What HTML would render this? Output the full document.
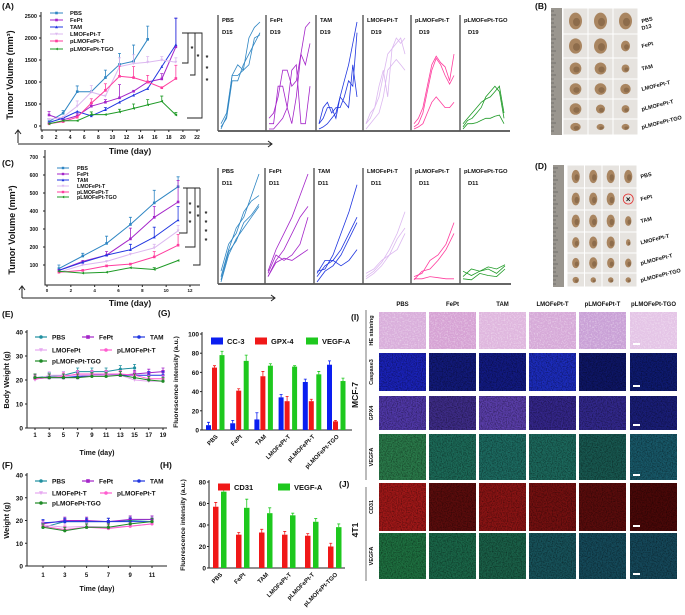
<!DOCTYPE html>
<html><head><meta charset="utf-8">
<style>
html,body{margin:0;padding:0;background:#fff;}
svg{display:block;font-family:"Liberation Sans",Arial,sans-serif;}
text{font-weight:bold;fill:#111;}
</style></head>
<body>
<svg id="fig" width="685" height="615" viewBox="0 0 685 615" xmlns="http://www.w3.org/2000/svg">
<defs>
<filter id="noise" x="0" y="0" width="100%" height="100%">
<feTurbulence type="fractalNoise" baseFrequency="0.8" numOctaves="2" seed="3"/>
<feColorMatrix type="matrix" values="0 0 0 0 0  0 0 0 0 0  0 0 0 0 0  1.8 0 0 0 -0.7"/>
</filter>
<filter id="noiseL" x="0" y="0" width="100%" height="100%">
<feTurbulence type="fractalNoise" baseFrequency="0.7" numOctaves="2" seed="8"/>
<feColorMatrix type="matrix" values="0 0 0 0 1  0 0 0 0 1  0 0 0 0 1  1.8 0 0 0 -0.8"/>
</filter>
</defs>
</svg>
<script>
// ---------- DATA ----------
const groupNames = ["PBS","FePt","TAM","LMOFePt-T","pLMOFePt-T","pLMOFePt-TGO"];
const groupColors = ["#2f86c3","#a425c9","#2036e0","#dcb8f0","#ff3d9e","#1e9a26"];
// Panel A
const daysA = [1,3,5,7,9,11,13,15,17,19];
const aPBS  = [100,290,780,780,1100,1400,1470,1970];
const aFePt = [250,140,230,450,540,640,790,1000,1070,1800];
const aTAM  = [80,180,330,230,370,540,700,850,1350,1850];
const aLMO  = [150,200,450,770,680,1350,1420,1450,1500,1450];
const aPLMO = [50,100,200,520,810,1130,1100,1000,870,1080];
const aTGO  = [50,120,120,260,260,320,400,480,560,250];
const eA = [[60,60,130,0,170,250,370,300],[80,40,60,60,60,300,0,0,120,650],[0,0,0,0,50,0,0,0,0,600],[0,0,120,150,0,200,200,130,80,100],[0,0,0,100,150,230,250,150,0,300],[0,0,0,60,0,60,100,120,120,60]];
const ticksAY = ["2500","2000","1500","1000","1500","0"];
const ticksAYv = [2500,2000,1500,1000,500,0];
const ticksAX = [0,2,4,6,8,10,12,14,16,18,20,22];
// Panel C
const daysC = [1,3,5,7,9,11];
const cPBS  = [80,150,220,325,445,535];
const cFePt = [70,120,155,245,365,450];
const cTAM  = [70,115,155,185,255,350];
const cLMO  = [60,100,120,160,195,290];
const cPLMO = [60,70,95,105,145,210];
const cTGO  = [65,55,60,85,75,125];
const eC = [[20,15,40,40,70,55],[0,0,20,60,60,120],[0,0,0,30,55,75],[0,0,0,0,20,30],[0,0,0,0,30,60],[0,0,0,0,10,0]];
const ticksCY = [700,600,500,400,300,200,100];
const ticksCX = [0,2,4,6,8,10,12];
// Mini individual curves (relative tumour size, 0..1)
const miniA = [
 [[0.05,0.15,0.5,0.6,0.55,0.85,0.95,1.0],[0.02,0.1,0.45,0.45,0.6,0.7,0.8,0.9],[0.0,0.12,0.5,0.5,0.55,0.6,0.85,0.88]],
 [[0.05,0.05,0.4,0.4,0.2,0.05,0.3,0.7,0.95,1.0],[0.1,0.15,0.3,0.55,0.55,0.4,0.45,0.7,0.6,0.8],[0.0,0.0,0.05,0.1,0.2,0.55,0.6,0.05,0.05,0.4]],
 [[0,0.02,0.05,0.1,0.15,0.3,0.45,0.6,0.8,1.0],[0.05,0.2,0.25,0.15,0.2,0.2,0.3,0.45,0.4,0.9],[0.05,0.1,0.2,0.2,0.1,0.3,0.25,0.2,0.6,0.3]],
 [[0.05,0.1,0.2,0.3,0.5,0.7,0.75,0.8,0.85,0.7],[0.05,0.15,0.2,0.4,0.55,0.3,0.75,0.85,0.8,0.85],[0.0,0.05,0.1,0.15,0.3,0.55,0.6,0.65,0.6,0.55]],
 [[0.05,0.1,0.2,0.4,0.6,0.68,0.62,0.58,0.45,0.7],[0.02,0.05,0.15,0.35,0.55,0.66,0.6,0.5,0.42,0.5],[0.0,0.02,0.05,0.15,0.25,0.3,0.25,0.2,0.2,0.25]],
 [[0.05,0.1,0.15,0.2,0.25,0.28,0.3,0.35,0.4,0.15],[0.02,0.08,0.1,0.15,0.2,0.3,0.35,0.4,0.35,0.1],[0.0,0.05,0.05,0.06,0.08,0.1,0.1,0.12,0.13,0.05]]
];
const miniC = [
 [[0.05,0.3,0.5,0.6,0.8,1.0],[0.1,0.35,0.45,0.65,0.75,0.8],[0.0,0.25,0.4,0.5,0.6,0.7],[0.02,0.28,0.38,0.55,0.62,0.72]],
 [[0.1,0.3,0.45,0.6,0.8,1.0],[0.05,0.2,0.3,0.45,0.6,0.7],[0.08,0.25,0.2,0.25,0.35,0.6],[0.05,0.18,0.22,0.2,0.25,0.3]],
 [[0.1,0.12,0.25,0.45,0.65,0.9],[0.05,0.15,0.2,0.3,0.45,0.6],[0.0,0.1,0.15,0.25,0.4,0.55],[0.08,0.2,0.2,0.15,0.2,0.3]],
 [[0.05,0.1,0.18,0.3,0.45,0.65],[0.08,0.12,0.2,0.25,0.4,0.5],[0.03,0.08,0.15,0.25,0.3,0.45]],
 [[0.05,0.08,0.2,0.25,0.35,0.55],[0.02,0.1,0.12,0.2,0.3,0.45],[0.03,0.03,0.05,0.04,0.03,0.03]],
 [[0.1,0.06,0.1,0.12,0.08,0.15],[0.05,0.12,0.1,0.14,0.12,0.16],[0.03,0.02,0.08,0.06,0.05,0.12]]
];
const miniDayA = ["D15","D19","D19","D19","D19","D19"];
// Panel E / F
const daysE = [1,3,5,7,9,11,13,15,17,19];
const ePBS=[21,21.5,22,23.5,23.5,23.5,24.5,25], eFePt=[21,21,21,21,22,22,22,22.5,23,23.5], eTAM=[20.5,21,21,21.5,22,22.5,22,22,22,22];
const eLMO=[20,22,22,22,22,22,22,20,19.5,19.5], ePLMO=[20.5,21,21.5,22.5,22.5,22.5,22.5,22,20.5,20.5], eTGO=[21,21,21,21,21.5,21.5,22,21,20,19.5];
const daysF = [1,3,5,7,9,11];
const fPBS=[17,19.5,19.5,19.5,20,20.5], fFePt=[18.5,20,20,19.5,20.5,20.5], fTAM=[19,19.5,19.5,19.5,19.5,19.5];
const fLMO=[18,17,17.5,17,17.5,18.5], fPLMO=[17.5,16,17,16.5,17.5,18.5], fTGO=[17,15.5,17,17,18.5,19.5];
const ticksW = [0,10,20,30,40];
const efColors = ["#1f8f9f","#a425c9","#2036e0","#e6a8f0","#ff5ccf","#1e8a26"];
const efNames = ["PBS","FePt","TAM","LMOFePt","pLMOFePt-T","pLMOFePt-TGO"];
const fNames = ["PBS","FePt","TAM","LMOFePt-T","pLMOFePt-T","pLMOFePt-TGO"];
// Panel G / H
const gCC3=[5,7,11,34,50,68], gGPX4=[65,41,56,30,30,9], gVEGF=[78,72,67,66,58,51];
const gErr=[[3,3,7,3,3,4],[2,2,5,5,2,1],[4,6,2,1,3,3]];
const hCD31=[57,31,33,31,30,20], hVEGF=[71,56,51,49,43,38];
const hErr=[[4,2,3,3,2,3],[6,8,5,2,3,3]];
const ticksG=[0,20,40,60,80,100], ticksH=[0,20,40,60,80];

// ---------- helpers ----------
const svg=document.getElementById('fig');
const NS="http://www.w3.org/2000/svg";
function mk(tag,attrs,parent){const e=document.createElementNS(NS,tag);for(const k in attrs)e.setAttribute(k,attrs[k]);(parent||svg).appendChild(e);return e;}
function txt(x,y,s,size,anchor,parent,extra){const e=mk('text',Object.assign({x:x,y:y,'font-size':size,'text-anchor':anchor||'start'},extra||{}),parent);e.textContent=s;return e;}
function grp(name){const g=mk('g',{});return g;}
function marker(g,x,y,type,color,s){
  let e;
  if(type==='sq'){e=mk('rect',{x:x-s,y:y-s,width:2*s,height:2*s,fill:color},g);}
  else if(type==='tu'){e=mk('polygon',{points:`${x},${y-s*1.2} ${x-s*1.1},${y+s} ${x+s*1.1},${y+s}`,fill:color},g);}
  else if(type==='td'){e=mk('polygon',{points:`${x},${y+s*1.2} ${x-s*1.1},${y-s} ${x+s*1.1},${y-s}`,fill:color},g);}
  else if(type==='tl'){e=mk('polygon',{points:`${x-s*1.2},${y} ${x+s},${y-s*1.1} ${x+s},${y+s*1.1}`,fill:color},g);}
  else {e=mk('circle',{cx:x,cy:y,r:s,fill:color},g);}
  
  
}
const mtypes=['sq','sq','tu','td','sq','tl'];
function series(g,xs,vals,errs,X,Y,color,mt,ms,name){
  const sg=mk('g',{},g);
  
  
  let d='';
  vals.forEach((v,i)=>{d+=(i?'L':'M')+X(xs[i]).toFixed(1)+','+Y(v).toFixed(1);});
  mk('path',{d:d,fill:'none',stroke:color,'stroke-width':1},sg);
  vals.forEach((v,i)=>{
    if(errs&&errs[i]){const x=X(xs[i]);mk('path',{d:`M${x},${Y(v)}V${Y(v+errs[i])}M${x-1.5},${Y(v+errs[i])}H${x+1.5}`,stroke:color,'stroke-width':0.8,fill:'none'},sg);}
    marker(sg,X(xs[i]),Y(v),mt,color,ms);
  });
}
function axes(g,x0,x1,y0,yTop){mk('path',{d:`M${x0},${yTop}V${y0}H${x1}`,stroke:'#222','stroke-width':1,fill:'none'},g);}

// ---------- Panel labels ----------
[["(A)",2,9],["(B)",535,9],["(C)",2,166],["(D)",535,169],["(E)",2,317],["(F)",2,468],["(G)",158,316],["(H)",160,468],["(I)",351,320],["(J)",339,487]].forEach(p=>{
  const t=txt(p[1],p[2],p[0],8.5,'start');
  
  
});

// ---------- Panel A ----------
(function(){
  const g=grp('panel-a-tumor-volume-chart');
  const X=d=>42+d*(155/22), Y=v=>126-v*(110/2500);
  axes(g,41,200,130,12);
  ticksAYv.forEach((v,i)=>{mk('line',{x1:39,x2:41,y1:Y(v),y2:Y(v),stroke:'#222'},g);txt(37,Y(v)+2,ticksAY[i],5.5,'end',g);});
  ticksAX.forEach(d=>{mk('line',{x1:X(d),x2:X(d),y1:130,y2:132,stroke:'#222'},g);txt(X(d),139,String(d),5,'middle',g);});
  const yt=txt(13,75,'Tumor Volume (mm³)',9,'middle',g,{transform:'rotate(-90 13 75)'});
  
  
  const all=[aPBS,aFePt,aTAM,aLMO,aPLMO,aTGO];
  all.forEach((s,k)=>series(g,daysA,s,eA[k],X,Y,groupColors[k],mtypes[k],1.3,'series-'+groupNames[k].toLowerCase()));
  const ly=[13,20,27,34,41,49];
  groupNames.forEach((n,k)=>{
    const lg=mk('g',{},g);
    
    
    mk('line',{x1:50,x2:63,y1:ly[k],y2:ly[k],stroke:groupColors[k],'stroke-width':1},lg);
    marker(lg,56.5,ly[k],mtypes[k],groupColors[k],1.3);
    txt(70,ly[k]+2,n,5.8,'start',lg);
  });
  mk('path',{d:'M182,33H202V118H187M195,33V75H190M188,33V63H182',stroke:'#222','stroke-width':0.9,fill:'none'},g);
  [[192,51],[198,59],[207,60],[207,71],[207,83]].forEach(p=>txt(p[0],p[1],'*',7,'middle',g));
  mk('path',{d:'M18,143V131M15,134L18,130L21,134M18,144H272M268,141L272,144L268,147',stroke:'#222','stroke-width':1,fill:'none'},g);
  const tl=txt(130,154,'Time (day)',8.5,'middle',g);
  
  
})();

// ---------- mini panels ----------
function minis(name,data,lefts,right,base,top,valTop,names,days,nameY){
  const g=grp(name);
  mk('line',{x1:lefts[0],x2:right,y1:base,y2:base,stroke:'#333','stroke-width':1.5},g);
  lefts.forEach((l,k)=>{
    const r=k<lefts.length-1?lefts[k+1]:right;
    const pg=mk('g',{},g);
    
    
    mk('line',{x1:l,x2:l,y1:top,y2:base,stroke:'#555','stroke-width':1.4},pg);
    txt(l+4,nameY,names[k],5.8,'start',pg);
    txt(l+(k>2?8:4),nameY+12,days[k],5.8,'start',pg);
    data[k].forEach(c=>{
      const n=c.length;let d='';
      c.forEach((v,i)=>{const x=l+3+i*(r-l-9)/(n-1);const y=base-2-v*(base-2-valTop);d+=(i?'L':'M')+x.toFixed(1)+','+y.toFixed(1);});
      const p=mk('path',{d:d,fill:'none',stroke:groupColors[k],'stroke-width':0.8},pg);
      
      
    });
  });
}
minis('panel-a-individual-curves',miniA,[218,266,316,363,411,460],510,131,15,22,groupNames,miniDayA,22);
minis('panel-c-individual-curves',miniC,[218,265,314,363,411,460],511,284,168,174,groupNames,["D11","D11","D11","D11","D11","D11"],173);

// ---------- Panel C ----------
(function(){
  const g=grp('panel-c-tumor-volume-chart');
  const X=d=>47+d*(143/12), Y=v=>283-v*0.18;
  axes(g,45,200,285,150);
  ticksCY.forEach(v=>{mk('line',{x1:43,x2:45,y1:Y(v),y2:Y(v),stroke:'#222'},g);txt(38,Y(v)+2,String(v),5,'end',g);});
  ticksCX.forEach(d=>{mk('line',{x1:X(d),x2:X(d),y1:285,y2:287,stroke:'#222'},g);txt(X(d),292,String(d),4.5,'middle',g);});
  const yt=txt(15,230,'Tumor Volume (mm³)',9,'middle',g,{transform:'rotate(-90 15 230)'});
  
  
  [cPBS,cFePt,cTAM,cLMO,cPLMO,cTGO].forEach((s,k)=>series(g,daysC,s,eC[k],X,Y,groupColors[k],mtypes[k],1.3,'series-'+groupNames[k].toLowerCase()));
  const ly=[168,174,180,186,192,197];
  groupNames.forEach((n,k)=>{
    const lg=mk('g',{},g);
    
    
    mk('line',{x1:57,x2:69,y1:ly[k],y2:ly[k],stroke:groupColors[k]},lg);
    marker(lg,63,ly[k],mtypes[k],groupColors[k],1.2);
    txt(77,ly[k]+2,n,5.3,'start',lg);
  });
  mk('path',{d:'M183,188H200M187,188V233H179M195,188V247H185M200,188V265H193',stroke:'#222','stroke-width':0.9,fill:'none'},g);
  [[190,204],[190,213],[190,222],[198,207],[198,216],[206,213],[206,222],[206,231],[206,240]].forEach(p=>txt(p[0],p[1]+3,'*',7,'middle',g));
  mk('path',{d:'M22,298V287M19,290L22,286L25,290M22,298H275M271,295L275,298L271,301',stroke:'#222','stroke-width':1,fill:'none'},g);
  const tl=txt(130,306,'Time (day)',8.5,'middle',g);
  
  
})();

// ---------- Photos B / D ----------
function photos(name,rx,x0,cols,cw,rows,labels,extraLabel,sizes){
  const g=grp(name);
  mk('rect',{x:rx,y:rows[0],width:11,height:rows[rows.length-1]-rows[0],fill:'#9a968f'},g);
  for(let y=rows[0]+3;y<rows[rows.length-1];y+=4)mk('line',{x1:rx,x2:rx+(y%12<4?5:3),y1:y,y2:y,stroke:'#4a4a48','stroke-width':0.5},g);
  for(let r=0;r<rows.length-1;r++){
    for(let c=0;c<cols;c++){
      const cx=x0+c*cw, cy=rows[r], h=rows[r+1]-rows[r];
      mk('rect',{x:cx+0.5,y:cy+0.5,width:cw-1,height:h-1,fill:'#e6e3df'},g);
      const s=sizes[r][c];
      if(s<0){mk('circle',{cx:cx+cw/2,cy:cy+h/2,r:5,fill:'none',stroke:'#e03030','stroke-width':0.8},g);txt(cx+cw/2,cy+h/2+3,'×',8,'middle',g,{fill:'#e03030','font-weight':'normal'});continue;}
      const e=mk('ellipse',{cx:cx+cw/2,cy:cy+h/2,rx:s*cw*0.26,ry:s*h*0.32,fill:'#a98560'},g);
      
      
      mk('ellipse',{cx:cx+cw/2+1,cy:cy+h/2+1,rx:s*cw*0.14,ry:s*h*0.16,fill:'#7c5c3e',opacity:0.6},g);
    }
  }
  labels.forEach((l,i)=>{
    const y=(rows[i]+rows[i+1])/2+2, x=x0+cols*cw+4;
    txt(x,y,l,5.5,'start',g,{transform:`rotate(-14 ${x} ${y})`});
  });
  if(extraLabel)txt(x0+cols*cw+4,rows[0]+22,extraLabel,5.5,'start',g,{transform:`rotate(-14 ${x0+cols*cw+4} ${rows[0]+22})`});
}
photos('panel-b-tumor-photos',551,563,3,25,[8,34,58,79,99,119,135],["PBS","FePt","TAM","LMOFePt-T","pLMOFePt-T","pLMOFePt-TGO"],"D13",
  [[1,1,1],[1,1,0.7],[0.9,0.9,0.6],[0.9,0.9,0.8],[0.9,0.7,0.6],[0.8,0.6,0.6]]);
photos('panel-d-tumor-photos',553,567,4,17.5,[165,188,210,232,253,273,287],["PBS","FePt","TAM","LMOFePt-T","pLMOFePt-T","pLMOFePt-TGO"],null,
  [[0.9,0.9,0.9,0.9],[0.9,0.9,0.9,-1],[0.9,0.9,0.9,0.7],[0.8,0.9,0.9,0.5],[0.8,0.9,0.8,0.7],[0.7,0.6,0.6,0.6]]);

// ---------- Panel E / F ----------
function weightChart(name,xs,data,names,yTop,y0,X,tickY,legRows,title,titleY,ticksX){
  const g=grp(name);
  const Y=v=>y0-v*(y0-yTop)/40;
  axes(g,27,167,y0,yTop-2);
  ticksW.forEach(v=>{mk('line',{x1:25,x2:27,y1:Y(v),y2:Y(v),stroke:'#222'},g);txt(23,Y(v)+2.5,String(v),6.5,'end',g);});
  ticksX.forEach(d=>{mk('line',{x1:X(d),x2:X(d),y1:y0,y2:y0+2,stroke:'#222'},g);txt(X(d),tickY,String(d),6,'middle',g);});
  const yt=txt(9,(yTop+y0)/2,title,7.5,'middle',g,{transform:`rotate(-90 9 ${(yTop+y0)/2})`});
  
  
  const xt=txt(97,titleY,'Time (day)',7,'middle',g);
  
  
  const mt=['circ','sq','circ','td','circ','circ'];
  data.forEach((s,k)=>series(g,xs,s,s.map(()=>1.5),X,Y,efColors[k],mt[k],1.6,'series-'+names[k].toLowerCase()));
  const pos=[[35,legRows[0]],[82,legRows[0]],[133,legRows[0]],[35,legRows[1]],[100,legRows[1]],[35,legRows[2]]];
  names.forEach((n,k)=>{
    const lg=mk('g',{},g);
    
    
    mk('line',{x1:pos[k][0],x2:pos[k][0]+12,y1:pos[k][1],y2:pos[k][1],stroke:efColors[k],'stroke-width':1.2},lg);
    marker(lg,pos[k][0]+6,pos[k][1],mt[k],efColors[k],1.8);
    txt(pos[k][0]+17,pos[k][1]+2.5,n,6.5,'start',lg);
  });
}
weightChart('panel-e-body-weight-chart',daysE,[ePBS,eFePt,eTAM,eLMO,ePLMO,eTGO],efNames,332,428,d=>35+(d-1)*(128/18),437,[337,350,361],'Body Weight (g)',455,daysE);
weightChart('panel-f-body-weight-chart',daysF,[fPBS,fFePt,fTAM,fLMO,fPLMO,fTGO],fNames,475,566,d=>43+(d-1)*10.9,577,[481,493,503],'Weight (g)',591,daysF);

// ---------- Bar charts G / H ----------
function barChart(name,sets,errs,colors,legendNames,legendX,legendY,ticks,vmax,yTop,y0,axX,axEnd,g0,step,offs,bw,labels){
  const g=grp(name);
  const Y=v=>y0-v*(y0-yTop)/vmax;
  axes(g,axX,axEnd,y0,yTop-2);
  ticks.forEach(v=>{mk('line',{x1:axX-2,x2:axX,y1:Y(v),y2:Y(v),stroke:'#222'},g);txt(axX-3,Y(v)+2.5,String(v),6.5,'end',g);});
  const yt=txt(axX-24,(yTop+y0)/2,'Fluorescence intensity (a.u.)',6.8,'middle',g,{transform:`rotate(-90 ${axX-24} ${(yTop+y0)/2})`,'font-weight':'normal'});
  
  
  sets.forEach((s,si)=>{
    s.forEach((v,i)=>{
      const x=g0+i*step+offs[si];
      const b=mk('rect',{x:x,y:Y(v),width:bw,height:y0-Y(v),fill:colors[si]},g);
      
      
      const e=errs[si][i];
      mk('path',{d:`M${x+bw/2},${Y(v)}V${Y(v+e)}M${x+bw/2-1.5},${Y(v+e)}H${x+bw/2+1.5}`,stroke:colors[si],'stroke-width':0.8,fill:'none'},g);
    });
  });
  labels.forEach((l,i)=>{
    const cx=g0+i*step+offs[offs.length-1]/2+bw/2+3, yy=y0+7;
    txt(cx,yy,l,6,'end',g,{transform:`rotate(-45 ${cx} ${yy})`});
  });
  legendNames.forEach((n,k)=>{
    const lg=mk('g',{},g);
    
    
    mk('rect',{x:legendX[k],y:legendY-3.5,width:12,height:7,fill:colors[k]},lg);
    txt(legendX[k]+16,legendY+3,n,7.5,'start',lg,{'font-weight':'normal'});
  });
}
barChart('panel-g-fluorescence-bar-chart',[gCC3,gGPX4,gVEGF],gErr,["#0a1ef0","#f01818","#1ec81e"],["CC-3","GPX-4","VEGF-A"],[211,255,306],341,ticksG,100,334,430,202,352,206,24.2,[0,6,13.5],5,groupNames);
barChart('panel-h-fluorescence-bar-chart',[hCD31,hVEGF],hErr,["#f01818","#1ec81e"],["CD31","VEGF-A"],[218,278],487,ticksH,80,482,568,209,345,213,23,[0,8],5.5,groupNames);

// ---------- Panel I / J micrographs ----------
(function(){
  const g=grp('panel-i-j-micrographs');
  const colX=[379,429,479,529,579,630], cw=47;
  const rows=[[312,37,'HE staining'],[353,38,'Caspase3'],[396,34,'GPX4'],[434,46,'VEGFA'],[483,48,'CD31'],[533,46,'VEGFA']];
  const fills=[
    ["#d9aedb","#d6a2d4","#dfb6de","#d6a9d8","#c9a0d6","#e4c4e6"],
    ["#1a22b8","#121a7a","#121a82","#1c2cbc","#0e1666","#0e1a70"],
    ["#5038a8","#3e2c88","#5a3eaa","#34268a","#32288c","#1a1e78"],
    ["#2a7a4a","#1c6a58","#1c6a60","#1c685c","#185850","#185868"],
    ["#a01818","#5a0c0c","#8a1414","#741010","#5a0c0c","#4a0808"],
    ["#1e7040","#1a6648","#1a6048","#17525a","#154a5a","#15485a"]
  ];
  ["PBS","FePt","TAM","LMOFePt-T","pLMOFePt-T","pLMOFePt-TGO"].forEach((h,i)=>{
    const t=txt(colX[i]+cw/2,306,h,6,'middle',g);
    
    
  });
  rows.forEach((r,ri)=>{
    txt(373,r[0]+r[1]/2,r[2],5.5,'middle',g,{transform:`rotate(-90 373 ${r[0]+r[1]/2})`});
    colX.forEach((x,ci)=>{
      const im=mk('rect',{x:x,y:r[0],width:cw,height:r[1],fill:fills[ri][ci]},g);
      
      
      mk('rect',{x:x,y:r[0],width:cw,height:r[1],filter:ri===0?'url(#noiseL)':'url(#noise)',opacity:ri===0?0.6:0.55},g);
    });
    mk('rect',{x:colX[5]+3,y:r[0]+r[1]-6,width:7,height:2,fill:'#fff'},g);
  });
  mk('line',{x1:366,x2:366,y1:310,y2:480,stroke:'#555','stroke-width':0.8},g);
  mk('line',{x1:366,x2:366,y1:487,y2:581,stroke:'#555','stroke-width':0.8},g);
  txt(358,395,'MCF-7',8.5,'middle',g,{transform:'rotate(-90 358 395)'});
  txt(358,530,'4T1',8.5,'middle',g,{transform:'rotate(-90 358 530)'});
})();
</script>
</body></html>
